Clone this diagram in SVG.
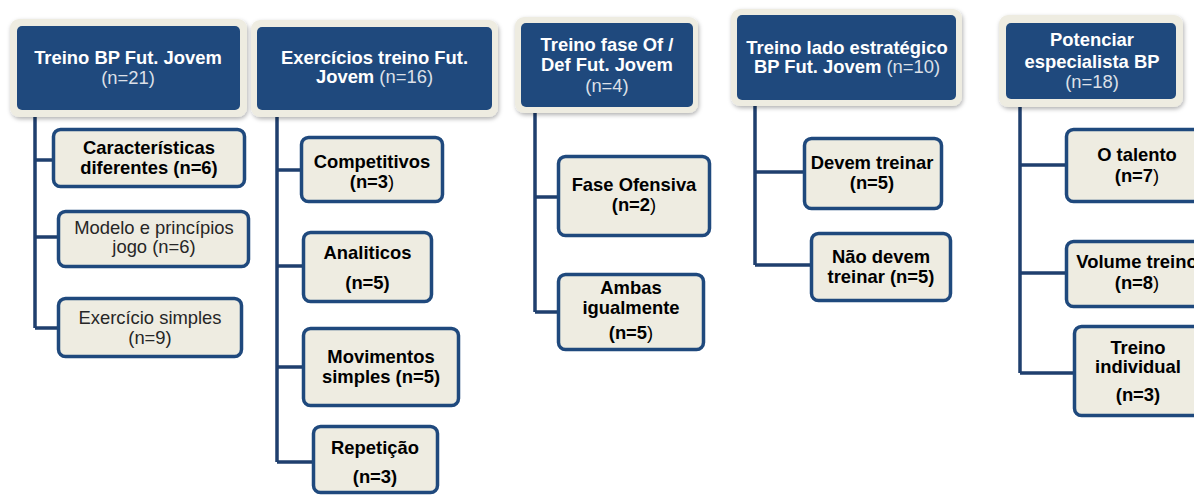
<svg xmlns="http://www.w3.org/2000/svg" width="1194" height="496" viewBox="0 0 1194 496">
<defs>
<filter id="sh" x="-10%" y="-10%" width="125%" height="130%">
<feDropShadow dx="1" dy="2" stdDeviation="2" flood-color="#000" flood-opacity="0.3"/>
</filter>
<style>
text{font-family:"Liberation Sans",Arial,sans-serif;font-size:18.4px;text-anchor:middle}
.frame{fill:#EEECE1;filter:url(#sh)}
.hd{fill:#1F497D}
.ht{fill:#FFFFFF;font-weight:bold}
.hn{fill:#DCE0E8;font-weight:normal}
.box{fill:#EEECE1;stroke:#1F497D;stroke-width:3.5}
.cb{fill:#000;font-weight:bold}
.cn{fill:#262626;font-weight:normal}
.nw{font-weight:normal}
.con{fill:none;stroke:#1F3F6E;stroke-width:3.5;stroke-linejoin:miter}
</style>
</defs>
<rect width="1194" height="496" fill="#FFFFFF"/>
<g id="connectors">
<path class="con" d="M35,116 V328 M35,160 H52 M35,237 H57 M35,328 H57"/>
<path class="con" d="M277,117 V462 M277,170 H300 M277,266 H302 M277,367 H302 M277,462 H312"/>
<path class="con" d="M535,113 V312 M535,197 H557 M535,312 H557"/>
<path class="con" d="M755,106 V265 M755,172 H803 M755,265 H810"/>
<path class="con" d="M1020,107 V373 M1020,165 H1065 M1020,273 H1065 M1020,373 H1073"/>
</g>
<g id="h1">
<rect class="frame" x="10" y="19" width="237" height="98" rx="9"/>
<rect class="hd" x="17" y="26" width="223" height="84" rx="5"/>
<text class="ht" x="128" y="64">Treino BP Fut. Jovem</text>
<text class="ht hn" x="128" y="84">(n=21)</text>
</g>
<g id="h2">
<rect class="frame" x="251" y="20" width="247" height="97" rx="9"/>
<rect class="hd" x="257" y="27" width="235" height="83" rx="5"/>
<text class="ht" x="374.5" y="64">Exercícios treino Fut.</text>
<text class="ht" x="374.5" y="83">Jovem <tspan class="hn">(n=16)</tspan></text>
</g>
<g id="h3">
<rect class="frame" x="515" y="17" width="183" height="96" rx="9"/>
<rect class="hd" x="521" y="23" width="172" height="84" rx="5"/>
<text class="ht" x="607" y="51">Treino fase Of /</text>
<text class="ht" x="607" y="71">Def Fut. Jovem</text>
<text class="ht hn" x="607" y="92">(n=4)</text>
</g>
<g id="h4">
<rect class="frame" x="731" y="9" width="231" height="97" rx="9"/>
<rect class="hd" x="737" y="15" width="219" height="85" rx="5"/>
<text class="ht" x="847" y="54">Treino lado estratégico</text>
<text class="ht" x="847" y="73">BP Fut. Jovem <tspan class="hn">(n=10)</tspan></text>
</g>
<g id="h5">
<rect class="frame" x="999" y="15" width="184" height="92" rx="9"/>
<rect class="hd" x="1006" y="23" width="170" height="76" rx="5"/>
<text class="ht" x="1092" y="46">Potenciar</text>
<text class="ht" x="1092" y="68">especialista  BP</text>
<text class="ht hn" x="1092" y="88">(n=18)</text>
</g>
<g id="c1a">
<rect class="box" x="53.5" y="129.5" width="191" height="57" rx="7"/>
<text class="cb" x="149" y="154">Características</text>
<text class="cb" x="149" y="174">diferentes  (n=6)</text>
</g>
<g id="c1b">
<rect class="box" x="58.5" y="211.5" width="190" height="55" rx="7"/>
<text class="cn" x="154" y="234">Modelo  e princípios</text>
<text class="cn" x="154" y="253">jogo  (n=6)</text>
</g>
<g id="c1c">
<rect class="box" x="58.5" y="298.5" width="183" height="58" rx="7"/>
<text class="cn" x="150" y="324">Exercício simples</text>
<text class="cn" x="150" y="344">(n=9)</text>
</g>
<g id="c2a">
<rect class="box" x="301.5" y="137.5" width="141" height="64" rx="7"/>
<text class="cb" x="372" y="168">Competitivos</text>
<text class="cb" x="372" y="188">(n=3<tspan class="nw">)</tspan></text>
</g>
<g id="c2b">
<rect class="box" x="303.5" y="232.5" width="128" height="69" rx="7"/>
<text class="cb" x="367.5" y="259">Analiticos</text>
<text class="cb" x="367.5" y="289">(n=5)</text>
</g>
<g id="c2c">
<rect class="box" x="303.5" y="328.5" width="155" height="77" rx="7"/>
<text class="cb" x="381" y="363">Movimentos</text>
<text class="cb" x="381" y="383">simples  (n=5)</text>
</g>
<g id="c2d">
<rect class="box" x="313.5" y="426.5" width="124" height="66" rx="7"/>
<text class="cb" x="375" y="454">Repetição</text>
<text class="cb" x="375" y="483">(n=3)</text>
</g>
<g id="c3a">
<rect class="box" x="558.5" y="156.5" width="151" height="79" rx="7"/>
<text class="cb" x="634" y="191">Fase Ofensiva</text>
<text class="cb" x="634" y="211">(n=2<tspan class="nw">)</tspan></text>
</g>
<g id="c3b">
<rect class="box" x="558.5" y="274.5" width="145" height="75" rx="7"/>
<text class="cb" x="631" y="294">Ambas</text>
<text class="cb" x="631" y="314">igualmente</text>
<text class="cb" x="631" y="339">(n=5<tspan class="nw">)</tspan></text>
</g>
<g id="c4a">
<rect class="box" x="804.5" y="138.5" width="137" height="70" rx="7"/>
<text class="cb" x="872" y="169">Devem treinar</text>
<text class="cb" x="872" y="189">(n=5)</text>
</g>
<g id="c4b">
<rect class="box" x="811.5" y="233.5" width="139" height="67" rx="7"/>
<text class="cb" x="881" y="263">Não devem</text>
<text class="cb" x="881" y="283">treinar (n=5)</text>
</g>
<g id="c5a">
<rect class="box" x="1066.5" y="129.5" width="145" height="72" rx="7"/>
<text class="cb" x="1137" y="161">O talento</text>
<text class="cb" x="1137" y="182">(n=7<tspan class="nw">)</tspan></text>
</g>
<g id="c5b">
<rect class="box" x="1066.5" y="241.5" width="145" height="65" rx="7"/>
<text class="cb" x="1137" y="268">Volume  treino</text>
<text class="cb" x="1137" y="289">(n=8<tspan class="nw">)</tspan></text>
</g>
<g id="c5c">
<rect class="box" x="1074.5" y="326.5" width="137" height="89" rx="7"/>
<text class="cb" x="1138" y="354">Treino</text>
<text class="cb" x="1138" y="373">individual</text>
<text class="cb" x="1138" y="401">(n=3)</text>
</g>
</svg>
